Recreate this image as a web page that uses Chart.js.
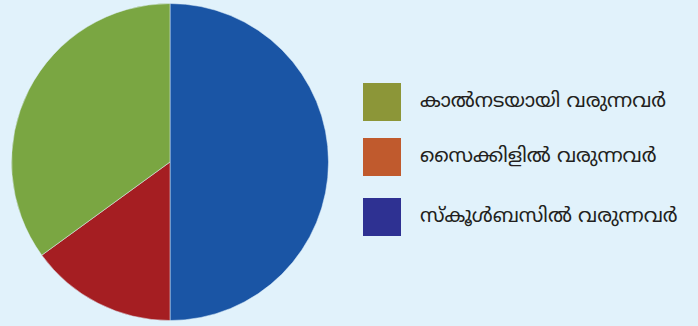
<!DOCTYPE html>
<html>
<head>
<meta charset="utf-8">
<script src="https://cdn.jsdelivr.net/npm/chart.js@4"></script>
<style>
  body { margin: 0; background: #e1f2fb; width: 698px; height: 326px; overflow: hidden; position: relative; }
  #pie-box { position: absolute; left: 0; top: 0; width: 340px; height: 326px; }
  .legend-item { position: absolute; left: 363px; height: 38px; display: flex; align-items: center; }
  .legend-swatch { width: 38px; height: 38px; }
  .legend-text { margin-left: 19px; font-family: "Noto Sans Malayalam", "Noto Sans", "DejaVu Sans", sans-serif; font-size: 20px; color: #231f20; white-space: nowrap; }
</style>
</head>
<body>
<div id="pie-box"><canvas id="pie"></canvas></div>
<div id="legend"></div>
<script>
// slice order clockwise from the top
const labels = ['സ്കൂൾബസിൽ വരുന്നവർ', 'സൈക്കിളിൽ വരുന്നവർ', 'കാൽനടയായി വരുന്നവർ'];
const values = [50, 15, 35];
const sliceColors = ['#1a55a5', '#a51e22', '#7aa642'];
// legend is listed in the other order and uses its own swatch colours
const legendOrder = [2, 1, 0];
const legendColors = ['#2e3192', '#c05a2d', '#8c9638'];
const legendTops = [83, 138, 198];

new Chart(document.getElementById('pie'), {
  type: 'pie',
  data: {
    labels: labels,
    datasets: [{
      data: values,
      backgroundColor: sliceColors,
      borderColor: 'rgba(225, 242, 251, 0.5)',
      borderWidth: 1
    }]
  },
  options: {
    responsive: true,
    maintainAspectRatio: false,
    animation: false,
    layout: { padding: { top: 3, bottom: 5, left: 11, right: 11 } },
    plugins: {
      legend: { display: false },
      tooltip: { enabled: false }
    }
  }
});

// legend at the right
const legend = document.getElementById('legend');
legendOrder.forEach((idx, row) => {
  const item = document.createElement('div');
  item.className = 'legend-item';
  item.style.top = legendTops[row] + 'px';
  item.innerHTML = `
    <div class="legend-swatch" style="background:${legendColors[idx]}"></div>
    <div class="legend-text">${labels[idx]}</div>
  `;
  legend.appendChild(item);
});
</script>
</body>
</html>
